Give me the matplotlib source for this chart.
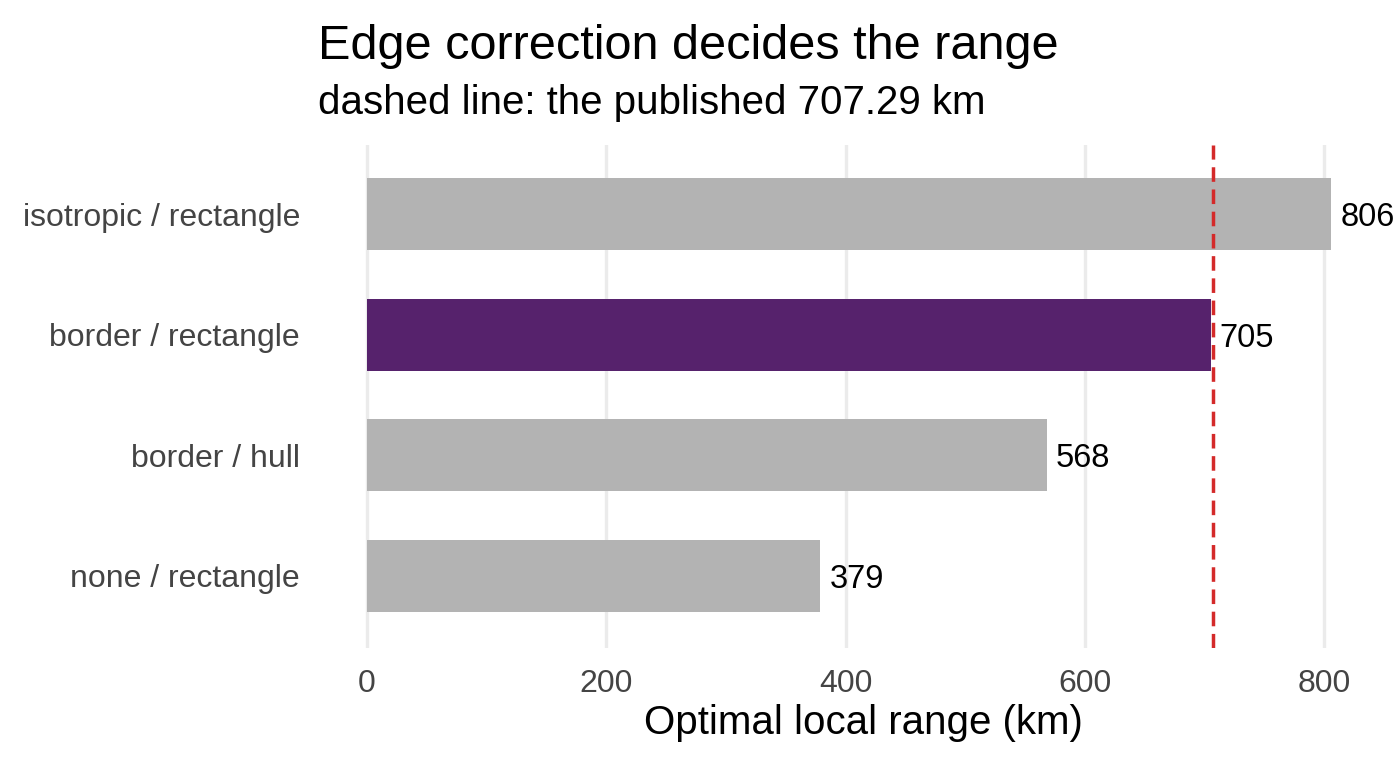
import matplotlib
matplotlib.use("Agg")
import matplotlib.pyplot as plt

# data
labels = ["none / rectangle", "border / hull", "border / rectangle", "isotropic / rectangle"]
values = [379, 568, 705, 806]
highlight = "border / rectangle"
published = 707.29
xticks = [0, 200, 400, 600, 800]

plt.rcParams['font.family'] = ['Liberation Sans', 'DejaVu Sans']

fig = plt.figure(figsize=(14, 7.64), dpi=100)
ax = fig.add_axes([343/1400, 1 - 648/764, (1384-343)/1400, 503/764])

colors = ["#56226c" if l == highlight else "#b3b3b3" for l in labels]
ypos = list(range(len(labels)))
ax.barh(ypos, values, height=0.6, color=colors, zorder=2)

for y, v in zip(ypos, values):
    ax.annotate(str(v), xy=(v, y), xytext=(6.5, 0), textcoords="offset points",
                va="center_baseline", ha="left", fontsize=23.5, color="black")

ax.axvline(published, color="#d42a2a", lw=2.5, dashes=(4.2, 2.2), zorder=3)

ax.set_xlim(-20, 850)
ax.set_ylim(-0.6, 3.575)
ax.set_xticks(xticks)
ax.set_yticks(ypos)
ax.set_yticklabels(labels)
ax.tick_params(axis="both", length=0, labelsize=23, labelcolor="#444444")
ax.tick_params(axis="y", pad=31)
ax.tick_params(axis="x", pad=15)
ax.grid(axis="x", color="#ebebeb", lw=2.4, zorder=0)
ax.set_axisbelow(True)
for s in ax.spines.values():
    s.set_visible(False)

ax.set_xlabel("Optimal local range (km)", fontsize=29, labelpad=4)

fig.text(318/1400, 1 - 59/764, "Edge correction decides the range", fontsize=35,
         ha="left", va="baseline")
fig.text(318/1400, 1 - 114/764, "dashed line: the published 707.29 km", fontsize=29,
         ha="left", va="baseline")

fig.savefig("out.png", dpi=100)
